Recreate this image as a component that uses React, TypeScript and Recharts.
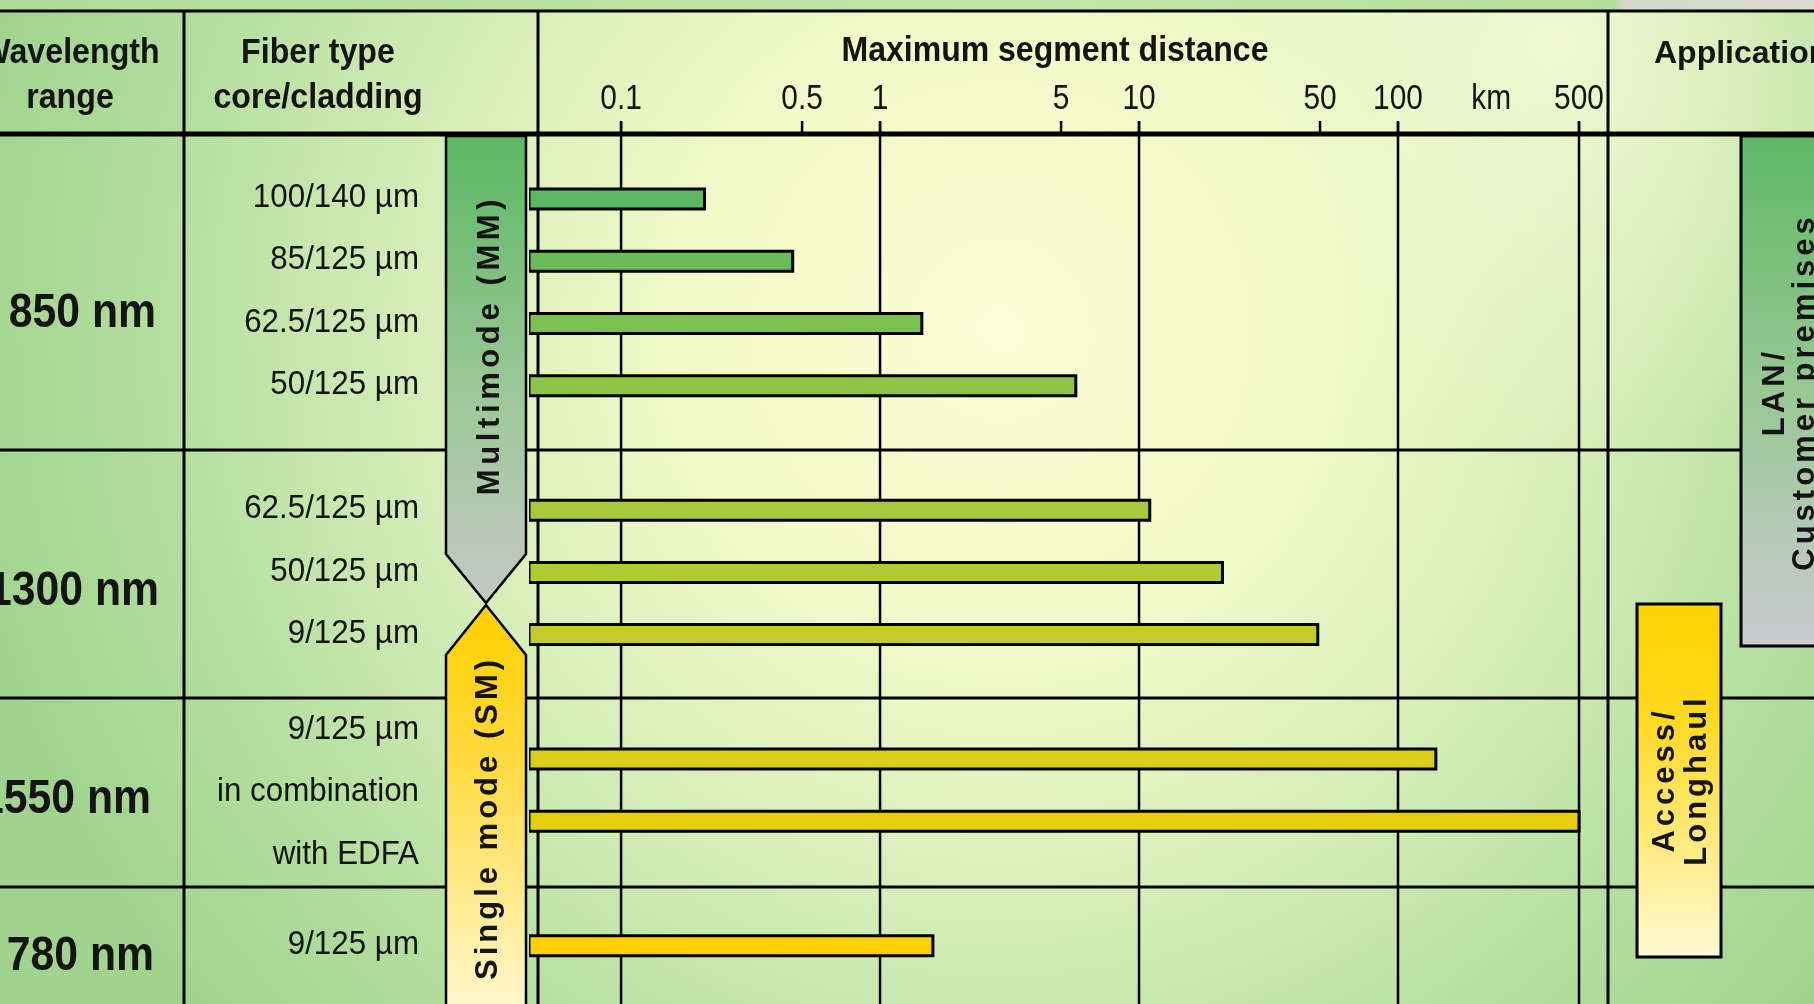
import { Bar, BarChart, CartesianGrid, Cell, XAxis, YAxis } from "recharts";

const W = 1814;
const H = 1004;
const FONT = "'Liberation Sans', Arial, Helvetica, sans-serif";
const INK = "#141414";

// table content
const wavelengths = ["850 nm", "1300 nm", "1550 nm", "780 nm"];
const fiberTypes = [
  "100/140 \u00b5m",
  "85/125 \u00b5m",
  "62.5/125 \u00b5m",
  "50/125 \u00b5m",
  "",
  "62.5/125 \u00b5m",
  "50/125 \u00b5m",
  "9/125 \u00b5m",
  "",
  "9/125 \u00b5m",
  "in combination",
  "with EDFA",
  "9/125 \u00b5m",
];
// max segment distance in km, null = spacer slot
const segmentKm = [0.21, 0.46, 1.45, 5.7, null, 11, 21, 49, null, 140, 500, null, 1.6];
const scaleTicks = [0.1, 0.5, 1, 5, 10, 50, 100, 229, 500];
const scaleTickLabels = ["0.1", "0.5", "1", "5", "10", "50", "100", "km", "500"];
const decadeLines = [0.1, 1, 10, 100, 500];
const modes = ["Multimode (MM)", "Single mode (SM)"];
const lanLines = ["LAN/", "Customer premises"];
const accessLines = ["Access/", "Longhaul"];

const barColors = [
  "#5cb961", "#6abc58", "#7cc04f", "#8dc447", "#fff",
  "#a8c93b", "#b3ca35", "#c3cc2c", "#fff",
  "#dccd18", "#e6cd0e", "#fff", "#ffd000",
];

const data = fiberTypes.map((fiber, i) => ({ slot: `r${i}`, fiber, km: segmentKm[i] }));

// layout
const PLOT_LEFT = 529;
const PLOT_RIGHT = 1608;
const PLOT_TOP = 122;
const COL1 = 184;
const COL2 = 538;
const ROW_LINES = [450, 698, 887];
const WAVE_BASE = [327, 605, 813, 970];
const WAVE_END = [156, 159, 151, 154];

// condensed-looking text: plain font squeezed horizontally
function CText({
  x, y, size, sx = 1, bold = false, anchor = "start", children,
}: {
  x: number; y: number; size: number; sx?: number; bold?: boolean;
  anchor?: "start" | "middle" | "end"; children: string;
}) {
  return (
    <text
      transform={`translate(${x},${y}) scale(${sx},1)`}
      textAnchor={anchor}
      fontSize={size}
      fontWeight={bold ? "bold" : "normal"}
      fontFamily={FONT}
      fill={INK}
    >
      {children}
    </text>
  );
}

function DistanceTick({ x, payload }: any) {
  const i = scaleTicks.indexOf(payload.value);
  const label = scaleTickLabels[i];
  return (
    <g>
      <CText x={x} y={109} size={36} sx={0.83} anchor="middle">{label}</CText>
      {label !== "km" && <line x1={x} x2={x} y1={121} y2={134} stroke="#000" strokeWidth={2.5} />}
    </g>
  );
}

function FiberTick({ y, payload }: any) {
  const i = Number(String(payload.value).slice(1));
  const label = fiberTypes[i];
  if (!label) return <g />;
  const shift = i >= 9 && i <= 11 ? -28 : 0;
  return <CText x={419} y={y + shift + 8} size={33} sx={0.95} anchor="end">{label}</CText>;
}

function RotLabel({
  cx, cy, lines, gap, spacing = 4,
}: { cx: number; cy: number; lines: string[]; gap: number; spacing?: number }) {
  return (
    <>
      {lines.map((t, k) => {
        const x = cx + (k - (lines.length - 1) / 2) * gap;
        return (
          <text
            key={t}
            transform={`translate(${x},${cy}) rotate(-90)`}
            textAnchor="middle"
            dominantBaseline="central"
            fontSize={31}
            fontWeight="bold"
            letterSpacing={spacing}
            fontFamily={FONT}
            fill={INK}
          >
            {t}
          </text>
        );
      })}
    </>
  );
}

function Table() {
  return (
    <svg width={W} height={H} style={{ position: "absolute", left: 0, top: 0 }}>
      <defs>
        <radialGradient id="bg" gradientUnits="userSpaceOnUse" cx={1000} cy={330} r={1050}>
          <stop offset="0" stopColor="#fbfdd4" />
          <stop offset="0.3" stopColor="#f2f9c8" />
          <stop offset="0.55" stopColor="#d6eeba" />
          <stop offset="0.8" stopColor="#b4de9e" />
          <stop offset="1" stopColor="#a0d48e" />
        </radialGradient>
        <radialGradient id="bgTR" gradientUnits="userSpaceOnUse" cx={1560} cy={40} r={420}>
          <stop offset="0" stopColor="#f4f9d2" stopOpacity={0.9} />
          <stop offset="1" stopColor="#f4f9d2" stopOpacity={0} />
        </radialGradient>
        <linearGradient id="strip" x1="0" x2="1" y1="0" y2="0">
          <stop offset="0" stopColor="#b2dc9a" />
          <stop offset="0.6" stopColor="#c4e6a8" />
          <stop offset="0.89" stopColor="#b4de9c" />
          <stop offset="0.895" stopColor="#d4d8cc" />
          <stop offset="1" stopColor="#d8dad0" />
        </linearGradient>
        <linearGradient id="mm" x1="0" x2="0" y1="0" y2="1">
          <stop offset="0" stopColor="#5cb862" />
          <stop offset="0.55" stopColor="#9cc898" />
          <stop offset="1" stopColor="#c4c8c4" />
        </linearGradient>
        <linearGradient id="sm" x1="0" x2="0" y1="0" y2="1">
          <stop offset="0" stopColor="#ffd000" />
          <stop offset="0.35" stopColor="#ffd838" />
          <stop offset="1" stopColor="#fff8d0" />
        </linearGradient>
        <linearGradient id="lan" x1="0" x2="0" y1="0" y2="1">
          <stop offset="0" stopColor="#5eb866" />
          <stop offset="0.5" stopColor="#98c894" />
          <stop offset="1" stopColor="#cacad0" />
        </linearGradient>
        <linearGradient id="acc" x1="0" x2="0" y1="0" y2="1">
          <stop offset="0" stopColor="#ffd200" />
          <stop offset="0.3" stopColor="#ffd81c" />
          <stop offset="1" stopColor="#fffad4" />
        </linearGradient>
      </defs>
      <rect width={W} height={H} fill="url(#bg)" />
      <rect width={W} height={H} fill="url(#bgTR)" />
      <rect width={W} height={10} fill="url(#strip)" />

      <line x1={0} x2={W} y1={11} y2={11} stroke="#000" strokeWidth={3} />
      <line x1={0} x2={W} y1={134} y2={134} stroke="#000" strokeWidth={5} />
      {ROW_LINES.map((y) => (
        <line key={y} x1={0} x2={W} y1={y} y2={y} stroke="#000" strokeWidth={3} />
      ))}
      {[COL1, COL2, PLOT_RIGHT].map((x) => (
        <line key={x} x1={x} x2={x} y1={11} y2={H} stroke="#000" strokeWidth={3} />
      ))}

      <CText x={70} y={63} size={35} sx={0.92} bold anchor="middle">Wavelength</CText>
      <CText x={70} y={108} size={35} sx={0.92} bold anchor="middle">range</CText>
      <CText x={318} y={63} size={35} sx={0.92} bold anchor="middle">Fiber type</CText>
      <CText x={318} y={108} size={35} sx={0.92} bold anchor="middle">core/cladding</CText>
      <CText x={1055} y={61} size={35} sx={0.915} bold anchor="middle">Maximum segment distance</CText>
      <text x={1654} y={63} fontSize={32} fontWeight="bold" fontFamily={FONT} fill={INK}>Application</text>

      {wavelengths.map((w, i) => (
        <CText key={w} x={WAVE_END[i]} y={WAVE_BASE[i]} size={48} sx={0.89} bold anchor="end">{w}</CText>
      ))}

      <polygon points="446,136 526,136 526,554 486,603 446,554" fill="url(#mm)" stroke="#000" strokeWidth={2.5} />
      <polygon points="486,605 526,655 526,1012 446,1012 446,655" fill="url(#sm)" stroke="#000" strokeWidth={2.5} />
      <RotLabel cx={488} cy={345} lines={[modes[0]]} gap={0} spacing={4.6} />
      <RotLabel cx={486} cy={818} lines={[modes[1]]} gap={0} />

      <rect x={1741} y={136} width={100} height={510} fill="url(#lan)" stroke="#000" strokeWidth={3} />
      <RotLabel cx={1788} cy={392} lines={lanLines} gap={30} />
      <rect x={1637} y={604} width={84} height={353} fill="url(#acc)" stroke="#000" strokeWidth={3} />
      <RotLabel cx={1679} cy={780} lines={accessLines} gap={32} />
    </svg>
  );
}

export default function App() {
  return (
    <div style={{ position: "fixed", left: 0, top: 0, width: W, height: H, overflow: "hidden" }}>
      <Table />
      <div style={{ position: "absolute", left: 0, top: 0 }}>
        <BarChart
          width={W}
          height={H}
          data={data}
          layout="vertical"
          margin={{ top: 0, right: W - PLOT_RIGHT, bottom: 0, left: 0 }}
          barSize={20}
        >
          <CartesianGrid
            horizontal={false}
            verticalValues={decadeLines}
            stroke="#000"
            strokeWidth={2.5}
            strokeOpacity={1}
          />
          <XAxis
            type="number"
            scale="log"
            domain={[0.0441, 647]}
            allowDataOverflow
            orientation="top"
            height={PLOT_TOP}
            ticks={scaleTicks}
            interval={0}
            tick={<DistanceTick />}
            axisLine={false}
            tickLine={false}
          />
          <YAxis
            type="category"
            dataKey="slot"
            width={PLOT_LEFT}
            padding={{ top: 46, bottom: 27 }}
            interval={0}
            tick={<FiberTick />}
            axisLine={false}
            tickLine={false}
          />
          <Bar dataKey="km" stroke="#000" strokeWidth={3} isAnimationActive={false}>
            {data.map((d, i) => (
              <Cell key={d.slot} fill={barColors[i]} />
            ))}
          </Bar>
        </BarChart>
      </div>
    </div>
  );
}
